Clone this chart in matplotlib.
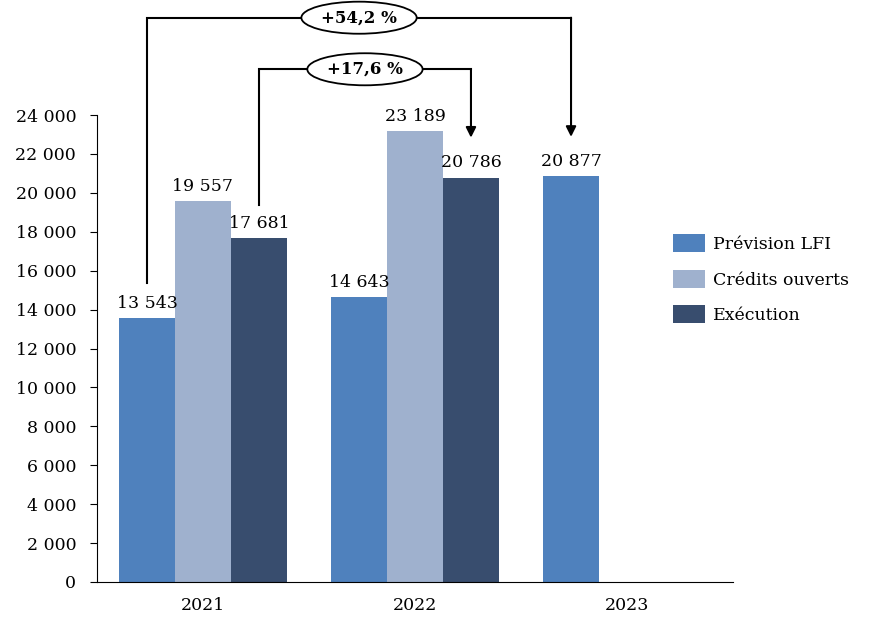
import matplotlib.pyplot as plt
import numpy as np

# data
years = ['2021', '2022', '2023']
prevision_lfi = [13543, 14643, 20877]
credits_ouverts = [19557, 23189, np.nan]
execution = [17681, 20786, np.nan]
series_names = ['Prévision LFI', 'Crédits ouverts', 'Exécution']
colors = ['#4F81BD', '#9FB1CE', '#384D6E']
yticks = np.arange(0, 24001, 2000)


def fmt(v):
    return f'{int(v):,}'.replace(',', ' ')


plt.rcParams['font.family'] = ['DejaVu Serif']
FS = 12.5

fig = plt.figure(figsize=(8.74, 6.3), dpi=100)
ax = fig.add_axes([97 / 874, 48 / 630, 636 / 874, 467 / 630])

x = np.arange(len(years))
width = 0.264
all_series = [prevision_lfi, credits_ouverts, execution]
for i, (vals, name, col) in enumerate(zip(all_series, series_names, colors)):
    pos = x + (i - 1) * width
    ax.bar(pos, vals, width, color=col, label=name)
    for p, v in zip(pos, vals):
        if not np.isnan(v):
            ax.annotate(fmt(v), (p, v), xytext=(0, 4.5), textcoords='offset points',
                        ha='center', va='bottom', fontsize=FS)

ax.set_xlim(-0.5, 2.5)
ax.set_ylim(0, 24000)
ax.set_yticks(yticks)
ax.set_yticklabels([fmt(t) for t in yticks], fontsize=FS)
ax.set_xticks(x)
ax.set_xticklabels(years, fontsize=FS)
ax.tick_params(axis='x', length=0, pad=11)
ax.tick_params(axis='y', length=5, direction='out', pad=10)
for s in ['top', 'right']:
    ax.spines[s].set_visible(False)


def bracket(x0, y0, x1, y1, ytop, text):
    # vertical line up, horizontal across, arrow down
    ax.plot([x0, x0, x1], [y0, ytop, ytop], color='black', lw=1.5, clip_on=False,
            solid_joinstyle='miter')
    ax.annotate('', xy=(x1, y1), xytext=(x1, ytop),
                arrowprops=dict(arrowstyle='-|>,head_width=0.3,head_length=0.6',
                                color='black', lw=1.5, shrinkA=0, shrinkB=0),
                annotation_clip=False)
    ax.text((x0 + x1) / 2, ytop, text, ha='center', va='center', fontsize=12,
            fontweight='bold',
            bbox=dict(boxstyle='ellipse,pad=0.17', fc='white', ec='black', lw=1.3))


# +54,2 % : Prévision 2021 -> Prévision 2023
bracket(x[0] - width, prevision_lfi[0] + 1800, x[2] - width, prevision_lfi[2] + 2000,
        29000, '+54,2 %')
# +17,6 % : Exécution 2021 -> Exécution 2022
bracket(x[0] + width, execution[0] + 1700, x[1] + width, execution[1] + 2050,
        26350, '+17,6 %')

fig.legend(loc='upper left', bbox_to_anchor=(673 / 874, 1 - 234 / 630),
           frameon=False, fontsize=FS, handlelength=1.85, handleheight=1.25,
           handletextpad=0.45, labelspacing=0.95, borderpad=0, borderaxespad=0)

fig.savefig('out.png', dpi=100)
